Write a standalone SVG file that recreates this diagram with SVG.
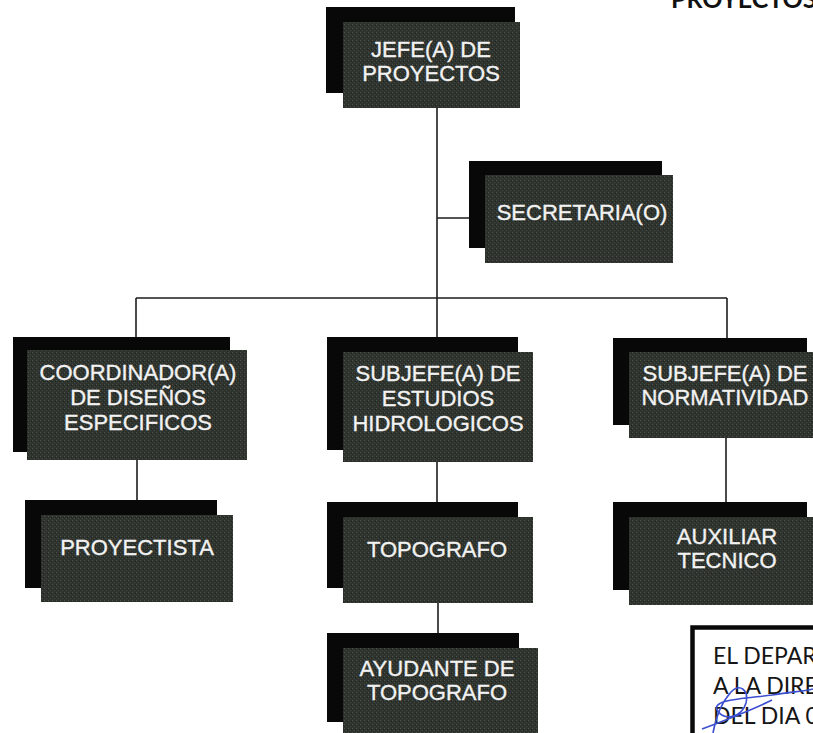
<svg xmlns="http://www.w3.org/2000/svg" width="813" height="733" viewBox="0 0 813 733">
<defs>
<pattern id="tex" width="4" height="4" patternUnits="userSpaceOnUse">
<rect width="4" height="4" fill="#2e332e"/>
<rect x="0" y="0" width="1" height="1" fill="#4c524c"/>
<rect x="2" y="2" width="1" height="1" fill="#424842"/>
<rect x="3" y="1" width="1" height="1" fill="#1f221f"/>
</pattern>
</defs>
<style>
.back{fill:#080808}
.front{fill:url(#tex)}
.t{font-family:"Liberation Sans",Arial,sans-serif;font-size:22px;fill:#f2f2f2;stroke:#f2f2f2;stroke-width:0.35;text-anchor:middle}
.c{stroke:#1e1e1e;stroke-width:1.6;fill:none}
.note{font-family:Lato,"Liberation Sans",sans-serif;font-size:23px;fill:#151515}
</style>
<rect width="813" height="733" fill="#ffffff"/>
<text x="671" y="8" style="font-family:Lato,'Liberation Sans',sans-serif;font-size:25px;font-weight:bold;fill:#111">PROYECTOS</text>

<g id="connectors">
<path class="c" d="M437 108V298M437 218H469M136 298H727M136 298V337M437 298V337M727 298V338"/>
<path class="c" d="M137 460V500M437 462V502M726 438V502M438 603V633"/>
</g>

<g id="jefe">
<rect class="back" x="326" y="7" width="189" height="86"/>
<rect class="front" x="343" y="22" width="177" height="86"/>
<text class="t"><tspan x="431" y="57">JEFE(A) DE</tspan><tspan x="431" y="81">PROYECTOS</tspan></text>
</g>

<g id="secretaria">
<rect class="back" x="469" y="161" width="193" height="87"/>
<rect class="front" x="485" y="175" width="188" height="88"/>
<text class="t" x="582" y="220">SECRETARIA(O)</text>
</g>

<g id="coordinador">
<rect class="back" x="13" y="337" width="217" height="115"/>
<rect class="front" x="27" y="350" width="220" height="110"/>
<text class="t"><tspan x="138" y="380">COORDINADOR(A)</tspan><tspan x="138" y="405">DE DISEÑOS</tspan><tspan x="138" y="430">ESPECIFICOS</tspan></text>
</g>

<g id="subjefe-estudios">
<rect class="back" x="327" y="337" width="191" height="113"/>
<rect class="front" x="343" y="352" width="190" height="110"/>
<text class="t"><tspan x="438" y="381">SUBJEFE(A) DE</tspan><tspan x="438" y="406">ESTUDIOS</tspan><tspan x="438" y="431">HIDROLOGICOS</tspan></text>
</g>

<g id="subjefe-normatividad">
<rect class="back" x="613" y="338" width="194" height="87"/>
<rect class="front" x="629" y="352" width="200" height="86"/>
<text class="t"><tspan x="725" y="381">SUBJEFE(A) DE</tspan><tspan x="725" y="405">NORMATIVIDAD</tspan></text>
</g>

<g id="proyectista">
<rect class="back" x="25" y="500" width="192" height="88"/>
<rect class="front" x="41" y="515" width="192" height="87"/>
<text class="t" x="137" y="555">PROYECTISTA</text>
</g>

<g id="topografo">
<rect class="back" x="327" y="502" width="191" height="86"/>
<rect class="front" x="343" y="517" width="190" height="86"/>
<text class="t" x="437" y="557">TOPOGRAFO</text>
</g>

<g id="auxiliar">
<rect class="back" x="613" y="502" width="194" height="88"/>
<rect class="front" x="629" y="517" width="200" height="88"/>
<text class="t"><tspan x="727" y="544">AUXILIAR</tspan><tspan x="727" y="568">TECNICO</tspan></text>
</g>

<g id="ayudante">
<rect class="back" x="327" y="633" width="192" height="89"/>
<rect class="front" x="343" y="648" width="195" height="100"/>
<text class="t"><tspan x="437" y="676">AYUDANTE DE</tspan><tspan x="437" y="700">TOPOGRAFO</tspan></text>
</g>

<g id="nota">
<rect x="692.5" y="627.5" width="140" height="120" fill="#ffffff" stroke="#0a0a0a" stroke-width="4.5"/>
<text class="note" x="713" y="664">EL DEPAR</text>
<text class="note" x="713" y="694">A LA DIRE</text>
<text class="note" x="713" y="724">DEL DIA 0</text>
<path d="M713 733C716 716 722 702 731 692C740 683 749 690 746 703C742 717 724 722 717 710C712 700 740 699 772 695C792 692 805 691 813 689M702 729C726 720 750 711 772 700" fill="none" stroke="#3b4fd0" stroke-width="1.6"/>
</g>
</svg>
